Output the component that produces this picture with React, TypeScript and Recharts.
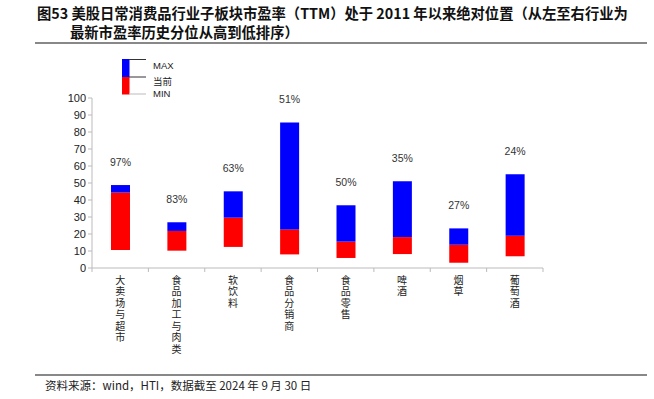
import React from 'react';
import { BarChart, Bar, XAxis, YAxis, LabelList } from 'recharts';

const categories = ['大卖场与超市', '食品加工与肉类', '软饮料', '食品分销商', '食品零售', '啤酒', '烟草', '葡萄酒'];
const maxValues = [48.8, 26.9, 45.1, 85.6, 36.9, 51.0, 23.3, 55.1];
const currentValues = [44.4, 21.8, 29.6, 22.7, 15.5, 18.2, 13.7, 19.0];
const minValues = [10.6, 10.2, 12.4, 8.0, 5.9, 8.2, 3.1, 6.9];
const percentiles = ['97%', '83%', '63%', '51%', '50%', '35%', '27%', '24%'];
const yTicks = [0, 10, 20, 30, 40, 50, 60, 70, 80, 90, 100];

const data = categories.map((name, i) => ({
  name,
  base: minValues[i],
  current: currentValues[i] - minValues[i],
  max: maxValues[i] - currentValues[i],
  pct: percentiles[i],
}));

const W = 654;
const H = 399;
const margin = { top: 98, right: 111, left: 52, bottom: 31 };
const band = (W - margin.left - 40 - margin.right) / categories.length;

const cjk = '"Noto Sans CJK SC", sans-serif';
const latin = '"Liberation Sans", Arial, sans-serif';

// vertical category names, with tick marks between categories
const CategoryTick = (props: any) => {
  const { x, y, payload, index } = props;
  return (
    <g>
      <line x1={x - band / 2} y1={y - 8} x2={x - band / 2} y2={y - 4} stroke="#bbb" />
      {index === categories.length - 1 && (
        <line x1={x + band / 2} y1={y - 8} x2={x + band / 2} y2={y - 4} stroke="#bbb" />
      )}
      <text
        x={x}
        y={y - 1}
        fontSize={10}
        fill="#222"
        fontFamily={cjk}
        style={{ writingMode: 'vertical-rl', letterSpacing: 1.5 }}
      >
        {payload.value}
      </text>
    </g>
  );
};

const PctLabel = (props: any) => {
  const { x, y, width, value } = props;
  return (
    <text x={x + width / 2} y={y - 19} textAnchor="middle" fontSize={10.5} fill="#333" fontFamily={latin}>
      {value}
    </text>
  );
};

export default function App() {
  return (
    <div style={{ position: 'absolute', left: 0, top: 0, width: W, height: H, background: '#fff' }}>
      <div
        style={{
          position: 'absolute',
          left: 37,
          top: 3,
          fontFamily: cjk,
          fontWeight: 700,
          fontSize: 14.3,
          lineHeight: '19px',
          color: '#111',
          whiteSpace: 'nowrap',
        }}
      >
        <div>图53 美股日常消费品行业子板块市盈率（TTM）处于 2011 年以来绝对位置（从左至右行业为</div>
        <div style={{ paddingLeft: 33 }}>最新市盈率历史分位从高到低排序）</div>
      </div>
      <div style={{ position: 'absolute', left: 35, top: 42, width: 612, height: 2, background: '#888' }} />

      <svg style={{ position: 'absolute', left: 0, top: 0 }} width={W} height={100}>
        <rect x={122} y={59} width={7.5} height={18} fill="#0000ff" />
        <rect x={122} y={77} width={7.5} height={17.5} fill="#ff0000" />
        <line x1={129} y1={59.5} x2={146} y2={59.5} stroke="#333" />
        <line x1={129} y1={77} x2={146} y2={77} stroke="#333" />
        <line x1={129} y1={94} x2={146} y2={94} stroke="#bbb" />
        <text x={153} y={69} fontSize={9.5} fill="#222" fontFamily={latin}>MAX</text>
        <text x={153} y={85} fontSize={9.5} fill="#222" fontFamily={cjk}>当前</text>
        <text x={153} y={97} fontSize={9.5} fill="#222" fontFamily={latin}>MIN</text>
      </svg>

      <div style={{ position: 'absolute', left: 0, top: 0 }}>
        <BarChart width={W} height={H} data={data} margin={margin} barSize={19}>
          <XAxis
            dataKey="name"
            interval={0}
            height={100}
            stroke="#bbb"
            tickLine={false}
            tick={<CategoryTick />}
          />
          <YAxis
            domain={[0, 100]}
            ticks={yTicks}
            width={40}
            stroke="#bbb"
            tickSize={4}
            tick={{ fontSize: 11, fill: '#222', fontFamily: latin }}
          />
          <Bar dataKey="base" stackId="a" fill="transparent" isAnimationActive={false} />
          <Bar dataKey="current" stackId="a" fill="#ff0000" isAnimationActive={false} />
          <Bar dataKey="max" stackId="a" fill="#0000ff" isAnimationActive={false}>
            <LabelList dataKey="pct" content={<PctLabel />} />
          </Bar>
        </BarChart>
      </div>

      <div style={{ position: 'absolute', left: 35, top: 374, width: 612, height: 2, background: '#888' }} />
      <div
        style={{
          position: 'absolute',
          left: 45,
          top: 377,
          fontFamily: cjk,
          fontSize: 11.5,
          color: '#222',
          whiteSpace: 'nowrap',
        }}
      >
        资料来源：wind，HTI，数据截至 2024 年 9 月 30 日
      </div>
    </div>
  );
}
